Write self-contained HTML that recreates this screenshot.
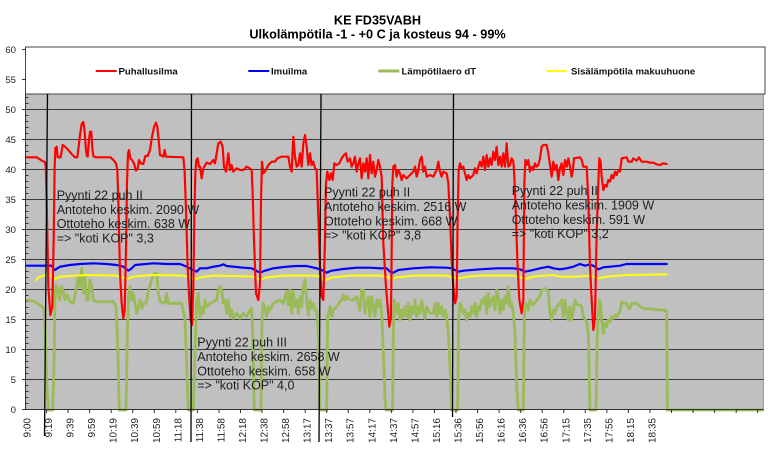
<!DOCTYPE html>
<html><head><meta charset="utf-8"><style>
html,body{margin:0;padding:0;background:#fff;}
svg{display:block;font-family:"Liberation Sans",Arial,sans-serif;}
</style></head><body>
<svg width="772" height="472" viewBox="0 0 772 472" xmlns="http://www.w3.org/2000/svg">
<rect width="772" height="472" fill="#fff"/>
<!-- title -->
<text x="377.5" y="24.3" font-size="12.7" font-weight="bold" text-anchor="middle" fill="#000">KE FD35VABH</text>
<text x="377.5" y="38.3" font-size="12.7" font-weight="bold" text-anchor="middle" fill="#000">Ulkolämpötila -1 - +0 C ja kosteus 94 - 99%</text>
<!-- plot area -->
<rect x="25.5" y="49.5" width="738" height="360" fill="#c0c0c0"/>
<line x1="763.5" y1="49.5" x2="763.5" y2="409.5" stroke="#9a9a9a" stroke-width="1"/>
<g stroke="#3a3a3a" stroke-width="1">
<line x1="25.5" y1="379.5" x2="763.5" y2="379.5"/>
<line x1="25.5" y1="349.5" x2="763.5" y2="349.5"/>
<line x1="25.5" y1="319.5" x2="763.5" y2="319.5"/>
<line x1="25.5" y1="289.5" x2="763.5" y2="289.5"/>
<line x1="25.5" y1="259.5" x2="763.5" y2="259.5"/>
<line x1="25.5" y1="229.5" x2="763.5" y2="229.5"/>
<line x1="25.5" y1="199.5" x2="763.5" y2="199.5"/>
<line x1="25.5" y1="169.5" x2="763.5" y2="169.5"/>
<line x1="25.5" y1="139.5" x2="763.5" y2="139.5"/>
<line x1="25.5" y1="109.5" x2="763.5" y2="109.5"/>
</g>
<!-- minor ticks -->
<g stroke="#333" stroke-width="1">
<line x1="25" y1="97.5" x2="28.5" y2="97.5"/><line x1="25" y1="103.5" x2="28.5" y2="103.5"/>
<line x1="25" y1="115.5" x2="28.5" y2="115.5"/><line x1="25" y1="121.5" x2="28.5" y2="121.5"/><line x1="25" y1="127.5" x2="28.5" y2="127.5"/><line x1="25" y1="133.5" x2="28.5" y2="133.5"/>
<line x1="25" y1="145.5" x2="28.5" y2="145.5"/><line x1="25" y1="151.5" x2="28.5" y2="151.5"/><line x1="25" y1="157.5" x2="28.5" y2="157.5"/><line x1="25" y1="163.5" x2="28.5" y2="163.5"/>
<line x1="25" y1="175.5" x2="28.5" y2="175.5"/><line x1="25" y1="181.5" x2="28.5" y2="181.5"/><line x1="25" y1="187.5" x2="28.5" y2="187.5"/><line x1="25" y1="193.5" x2="28.5" y2="193.5"/>
<line x1="25" y1="205.5" x2="28.5" y2="205.5"/><line x1="25" y1="211.5" x2="28.5" y2="211.5"/><line x1="25" y1="217.5" x2="28.5" y2="217.5"/><line x1="25" y1="223.5" x2="28.5" y2="223.5"/>
<line x1="25" y1="235.5" x2="28.5" y2="235.5"/><line x1="25" y1="241.5" x2="28.5" y2="241.5"/><line x1="25" y1="247.5" x2="28.5" y2="247.5"/><line x1="25" y1="253.5" x2="28.5" y2="253.5"/>
<line x1="25" y1="265.5" x2="28.5" y2="265.5"/><line x1="25" y1="271.5" x2="28.5" y2="271.5"/><line x1="25" y1="277.5" x2="28.5" y2="277.5"/><line x1="25" y1="283.5" x2="28.5" y2="283.5"/>
<line x1="25" y1="295.5" x2="28.5" y2="295.5"/><line x1="25" y1="301.5" x2="28.5" y2="301.5"/><line x1="25" y1="307.5" x2="28.5" y2="307.5"/><line x1="25" y1="313.5" x2="28.5" y2="313.5"/>
<line x1="25" y1="325.5" x2="28.5" y2="325.5"/><line x1="25" y1="331.5" x2="28.5" y2="331.5"/><line x1="25" y1="337.5" x2="28.5" y2="337.5"/><line x1="25" y1="343.5" x2="28.5" y2="343.5"/>
<line x1="25" y1="355.5" x2="28.5" y2="355.5"/><line x1="25" y1="361.5" x2="28.5" y2="361.5"/><line x1="25" y1="367.5" x2="28.5" y2="367.5"/><line x1="25" y1="373.5" x2="28.5" y2="373.5"/>
<line x1="25" y1="385.5" x2="28.5" y2="385.5"/><line x1="25" y1="391.5" x2="28.5" y2="391.5"/><line x1="25" y1="397.5" x2="28.5" y2="397.5"/><line x1="25" y1="403.5" x2="28.5" y2="403.5"/>
</g>
<!-- major y ticks -->
<g stroke="#333" stroke-width="1">
<line x1="22" y1="49.5" x2="25.5" y2="49.5"/><line x1="22" y1="79.5" x2="25.5" y2="79.5"/><line x1="22" y1="109.5" x2="25.5" y2="109.5"/><line x1="22" y1="139.5" x2="25.5" y2="139.5"/><line x1="22" y1="169.5" x2="25.5" y2="169.5"/><line x1="22" y1="199.5" x2="25.5" y2="199.5"/><line x1="22" y1="229.5" x2="25.5" y2="229.5"/><line x1="22" y1="259.5" x2="25.5" y2="259.5"/><line x1="22" y1="289.5" x2="25.5" y2="289.5"/><line x1="22" y1="319.5" x2="25.5" y2="319.5"/><line x1="22" y1="349.5" x2="25.5" y2="349.5"/><line x1="22" y1="379.5" x2="25.5" y2="379.5"/><line x1="22" y1="409.5" x2="25.5" y2="409.5"/>
</g>
<g font-size="9.6" fill="#222" text-anchor="end">
<text x="16" y="53">60</text><text x="16" y="83">55</text><text x="16" y="113">50</text><text x="16" y="143">45</text><text x="16" y="173">40</text><text x="16" y="203">35</text><text x="16" y="233">30</text><text x="16" y="263">25</text><text x="16" y="293">20</text><text x="16" y="323">15</text><text x="16" y="353">10</text><text x="16" y="383">5</text><text x="16" y="413">0</text>
</g>

<!-- series -->
<g fill="none" stroke-linejoin="round" stroke-linecap="round">
<!-- green -->
<g stroke="#9bbb59" stroke-width="8.5">
<path transform="translate(20,100) scale(0.333333)" d="M20,600 L45,605 L60,615 L72,625 L76,700 L80,850 L85,930 L98,930 L102,800 L105,600 L108,555 L112,580 L115,565 L118,600 L125,560 L130,575 L135,600 L142,585 L150,605 L160,610 L170,560 L175,530 L180,560 L185,505 L190,580 L195,530 L200,600 L205,600 L210,540 L215,560 L220,600 L230,605 L280,605 L288,620 L292,700 L298,930 L318,930 L322,700 L326,580 L330,560 L335,600 L340,580 L345,610 L350,640 L355,620 L360,600 L365,625 L370,610 L378,610 L385,575 L392,550 L400,525 L405,520 L410,520 L415,580 L420,605 L435,610 L440,580 L445,610 L485,610 L495,660 L500,800 L505,930 L520,930 L525,750 L530,600 L535,580 L540,650"/>
<path transform="translate(200,100) scale(0.333333)" d="M0,650 L5,620 L10,640 L15,600 L20,620 L30,610 L40,605 L50,600 L55,565 L60,560 L65,570 L70,610 L75,600 L80,640 L85,600 L90,650 L95,630 L100,655 L110,640 L120,655 L130,640 L140,650 L150,630 L155,625 L158,700 L163,930 L183,930 L186,650 L190,610 L195,625 L200,650 L205,620 L210,630 L220,610 L230,605 L240,600 L250,610 L260,575 L265,615 L270,570 L275,640 L280,575 L285,620 L290,600 L295,640 L300,590 L305,620 L310,560 L315,540 L320,600 L325,645 L330,600 L335,625 L340,610 L345,630 L350,630 L355,700 L360,930 L380,930 L383,650 L390,620 L395,650 L400,630 L410,620 L420,605 L425,600 L430,585 L435,600 L440,590 L450,600 L460,600 L470,590 L480,630 L485,570 L490,570 L495,640 L500,610 L505,590 L510,650 L515,590 L520,620 L525,650 L530,600 L535,620 L540,600"/>
<path transform="translate(380,100) scale(0.333333)" d="M0,600 L5,640 L10,750 L15,900 L18,930 L38,930 L40,700 L43,600 L48,620 L52,640 L55,610 L60,660 L65,630 L70,650 L75,620 L80,650 L85,610 L90,660 L95,620 L100,640 L105,600 L110,650 L115,620 L120,640 L125,600 L130,630 L135,655 L140,620 L150,640 L160,640 L165,610 L170,650 L175,610 L180,640 L185,620 L190,650 L195,630 L200,650 L205,700 L210,800 L215,930 L233,930 L236,650 L240,610 L245,620 L250,640 L255,630 L260,660 L265,640 L270,650 L275,620 L280,640 L285,610 L290,650 L295,620 L300,630 L305,600 L310,610 L315,590 L320,640 L325,580 L330,620 L335,600 L340,590 L345,630 L350,570 L355,590 L360,640 L365,600 L370,630 L375,590 L380,610 L385,560 L390,620 L395,610 L400,640 L405,700 L410,860 L415,930 L430,930 L433,650 L438,610 L445,630 L450,600 L460,615 L470,600 L480,590 L485,570 L495,565 L505,575 L510,640 L515,660 L520,630 L525,640 L530,620 L540,610"/>
<path transform="translate(560,100) scale(0.333333)" d="M0,610 L5,600 L10,650 L15,600 L20,640 L25,660 L30,620 L35,660 L40,630 L45,600 L50,615 L60,615 L65,620 L70,650 L80,665 L85,700 L90,930 L108,930 L112,700 L118,600 L122,610 L125,660 L130,700 L135,670 L140,680 L145,660 L150,665 L155,650 L160,655 L165,645 L170,650 L175,640 L180,635 L185,605 L190,610 L200,610 L205,625 L210,625 L215,610 L230,610 L240,620 L250,625 L270,627 L300,630 L315,630 L320,635 L322,930 L608,930"/>
</g>
<!-- yellow -->
<g stroke="#ffff00" stroke-width="6">
<path transform="translate(20,100) scale(0.333333)" d="M50,540 L55,532 L70,527 L95,527 L105,537 L120,530 L200,525 L290,527 L320,537 L340,530 L400,525 L490,527 L515,533 L530,537 L540,532"/>
<path transform="translate(200,100) scale(0.333333)" d="M0,532 L40,527 L100,528 L160,530 L180,540 L200,532 L250,527 L350,527 L375,540 L400,532 L450,527 L540,527"/>
<path transform="translate(380,100) scale(0.333333)" d="M0,527 L20,530 L35,537 L50,532 L100,527 L200,527 L225,533 L240,535 L260,530 L300,527 L400,527 L420,532 L435,537 L460,530 L520,525 L540,530"/>
<path transform="translate(560,100) scale(0.333333)" d="M0,530 L50,530 L90,527 L115,535 L140,530 L200,525 L320,523"/>
</g>
<!-- blue -->
<g stroke="#0000ff" stroke-width="6.5">
<path transform="translate(20,100) scale(0.333333)" d="M20,497 L95,497 L100,505 L105,510 L112,505 L120,500 L150,495 L180,492 L220,490 L260,492 L290,495 L310,500 L325,512 L335,505 L345,495 L400,490 L440,492 L480,492 L500,500 L515,508 L530,515 L540,505"/>
<path transform="translate(200,100) scale(0.333333)" d="M0,505 L20,505 L40,500 L60,497 L70,493 L80,498 L100,500 L130,503 L155,505 L165,510 L180,518 L195,512 L220,505 L260,500 L290,498 L320,498 L350,505 L365,510 L380,518 L395,512 L430,507 L470,503 L510,503 L540,505"/>
<path transform="translate(380,100) scale(0.333333)" d="M0,505 L20,505 L30,515 L40,518 L55,510 L100,505 L150,502 L200,503 L215,505 L235,515 L250,512 L300,508 L350,505 L400,505 L420,508 L435,515 L450,512 L480,505 L505,500 L520,505 L540,508"/>
<path transform="translate(560,100) scale(0.333333)" d="M0,508 L20,505 L40,500 L60,492 L75,497 L90,493 L105,500 L115,508 L130,502 L150,500 L180,497 L200,492 L220,492 L320,492"/>
</g>
<!-- red -->
<g stroke="#ff0000" stroke-width="6.5">
<path transform="translate(20,100) scale(0.333333)" d="M20,172 L50,172 L58,177 L66,182 L74,186 L77,195 L80,300 L85,560 L91,645 L97,620 L101,420 L104,200 L106,145 L110,140 L113,172 L122,172 L128,135 L135,140 L145,150 L155,162 L165,172 L172,172 L176,140 L180,105 L185,72 L190,66 L194,95 L197,140 L200,165 L203,170 L207,120 L210,95 L214,95 L217,145 L220,168 L226,172 L272,172 L280,180 L288,190 L292,210 L295,300 L300,520 L305,610 L310,655 L314,630 L318,450 L321,250 L324,160 L327,150 L331,175 L336,180 L342,190 L348,212 L353,205 L357,180 L362,190 L370,192 L376,168 L383,168 L390,150 L396,110 L402,82 L408,68 L412,80 L416,120 L420,165 L430,170 L434,150 L438,170 L490,172 L494,215 L498,330 L503,500 L508,600 L512,660 L516,675 L520,560 L523,350 L526,220 L529,180 L533,175 L537,200 L540,200"/>
<path transform="translate(200,100) scale(0.333333)" d="M0,200 L5,235 L10,205 L20,188 L30,192 L40,180 L45,190 L50,160 L55,130 L62,125 L68,140 L72,200 L78,215 L85,160 L90,210 L95,195 L100,215 L110,205 L120,210 L130,210 L140,200 L150,205 L155,210 L158,280 L162,420 L168,580 L175,600 L180,550 L183,300 L186,185 L190,220 L195,215 L205,195 L215,185 L225,185 L232,175 L245,170 L265,170 L270,200 L275,215 L280,110 L285,170 L290,200 L295,195 L300,160 L305,200 L310,130 L315,105 L320,140 L325,195 L330,160 L335,195 L340,185 L345,205 L350,210 L355,350 L360,500 L365,590 L370,600 L375,420 L378,250 L382,215 L388,240 L393,220 L398,240 L403,190 L410,195 L418,190 L425,175 L432,165 L438,160 L443,185 L450,175 L455,200 L460,190 L465,170 L470,215 L475,190 L480,175 L485,235 L490,190 L495,215 L500,175 L505,235 L510,165 L515,220 L520,185 L525,230 L530,210 L535,180 L540,200"/>
<path transform="translate(380,100) scale(0.333333)" d="M0,200 L5,230 L10,430 L18,560 L28,680 L33,650 L37,250 L40,200 L45,195 L50,230 L55,210 L60,220 L65,240 L70,225 L80,235 L90,225 L100,215 L105,200 L110,230 L115,210 L120,180 L125,170 L130,215 L135,200 L140,230 L150,225 L160,230 L170,210 L175,185 L180,215 L185,230 L190,215 L200,220 L205,250 L210,350 L215,480 L220,560 L225,610 L230,590 L233,350 L236,210 L240,190 L245,205 L250,200 L255,220 L260,240 L265,225 L270,235 L280,225 L285,205 L290,220 L295,200 L300,185 L305,200 L310,170 L315,210 L320,165 L325,200 L330,175 L335,195 L340,155 L345,180 L350,140 L355,195 L360,170 L365,200 L370,160 L375,200 L380,130 L385,200 L390,195 L395,175 L400,185 L403,230 L408,350 L412,480 L418,600 L425,640 L430,600 L433,250 L436,180 L440,195 L445,180 L450,215 L455,200 L460,210 L465,190 L470,200 L475,195 L480,175 L485,140 L490,135 L500,135 L505,160 L510,195 L515,230 L520,185 L525,210 L530,195 L535,240 L540,205"/>
<path transform="translate(560,100) scale(0.333333)" d="M0,205 L5,190 L10,225 L15,180 L20,200 L25,175 L30,200 L35,230 L38,215 L42,175 L60,172 L65,180 L70,200 L80,200 L85,300 L90,500 L95,600 L100,690 L105,650 L110,400 L115,250 L118,175 L122,185 L125,230 L130,270 L135,255 L140,260 L145,240 L150,245 L155,225 L160,235 L165,215 L170,225 L175,210 L180,215 L185,175 L200,172 L205,185 L215,185 L220,175 L230,182 L237,172 L245,185 L260,185 L270,188 L280,188 L290,193 L300,195 L310,190 L320,192"/>
</g>
</g>

<!-- axes -->
<line x1="25.5" y1="49.5" x2="25.5" y2="410" stroke="#333" stroke-width="1"/>
<line x1="25.5" y1="409.5" x2="763.5" y2="409.5" stroke="#333" stroke-width="1"/>
<!-- x ticks -->
<g stroke="#333" stroke-width="1">
<line x1="46.5" y1="409.5" x2="46.5" y2="413"/><line x1="68.1" y1="409.5" x2="68.1" y2="413"/><line x1="89.6" y1="409.5" x2="89.6" y2="413"/><line x1="111.2" y1="409.5" x2="111.2" y2="413"/><line x1="132.7" y1="409.5" x2="132.7" y2="413"/><line x1="154.3" y1="409.5" x2="154.3" y2="413"/><line x1="175.8" y1="409.5" x2="175.8" y2="413"/><line x1="197.4" y1="409.5" x2="197.4" y2="413"/><line x1="219" y1="409.5" x2="219" y2="413"/><line x1="240.5" y1="409.5" x2="240.5" y2="413"/><line x1="262" y1="409.5" x2="262" y2="413"/><line x1="283.6" y1="409.5" x2="283.6" y2="413"/><line x1="305.2" y1="409.5" x2="305.2" y2="413"/><line x1="326.7" y1="409.5" x2="326.7" y2="413"/><line x1="348.2" y1="409.5" x2="348.2" y2="413"/><line x1="369.8" y1="409.5" x2="369.8" y2="413"/><line x1="391.4" y1="409.5" x2="391.4" y2="413"/><line x1="412.9" y1="409.5" x2="412.9" y2="413"/><line x1="434.5" y1="409.5" x2="434.5" y2="413"/><line x1="456" y1="409.5" x2="456" y2="413"/><line x1="477.5" y1="409.5" x2="477.5" y2="413"/><line x1="499.1" y1="409.5" x2="499.1" y2="413"/><line x1="520.7" y1="409.5" x2="520.7" y2="413"/><line x1="542.2" y1="409.5" x2="542.2" y2="413"/><line x1="563.8" y1="409.5" x2="563.8" y2="413"/><line x1="585.3" y1="409.5" x2="585.3" y2="413"/><line x1="606.9" y1="409.5" x2="606.9" y2="413"/><line x1="628.4" y1="409.5" x2="628.4" y2="413"/><line x1="650" y1="409.5" x2="650" y2="413"/><line x1="671.5" y1="409.5" x2="671.5" y2="413"/><line x1="693.1" y1="409.5" x2="693.1" y2="413"/><line x1="714.6" y1="409.5" x2="714.6" y2="413"/><line x1="736.2" y1="409.5" x2="736.2" y2="413"/><line x1="757.7" y1="409.5" x2="757.7" y2="413"/>
</g>
<g font-size="10" fill="#222" text-anchor="end">
<text transform="translate(30.5,418) rotate(-90)">9:00</text>
<text transform="translate(52,418) rotate(-90)">9:19</text>
<text transform="translate(73.6,418) rotate(-90)">9:39</text>
<text transform="translate(95.1,418) rotate(-90)">9:59</text>
<text transform="translate(116.7,418) rotate(-90)">10:19</text>
<text transform="translate(138.2,418) rotate(-90)">10:39</text>
<text transform="translate(159.8,418) rotate(-90)">10:59</text>
<text transform="translate(181.3,418) rotate(-90)">11:18</text>
<text transform="translate(202.9,418) rotate(-90)">11:38</text>
<text transform="translate(224.5,418) rotate(-90)">11:58</text>
<text transform="translate(246,418) rotate(-90)">12:18</text>
<text transform="translate(267.5,418) rotate(-90)">12:38</text>
<text transform="translate(289.1,418) rotate(-90)">12:58</text>
<text transform="translate(310.7,418) rotate(-90)">13:17</text>
<text transform="translate(332.2,418) rotate(-90)">13:37</text>
<text transform="translate(353.7,418) rotate(-90)">13:57</text>
<text transform="translate(375.3,418) rotate(-90)">14:17</text>
<text transform="translate(396.9,418) rotate(-90)">14:37</text>
<text transform="translate(418.4,418) rotate(-90)">14:57</text>
<text transform="translate(440,418) rotate(-90)">15:16</text>
<text transform="translate(461.5,418) rotate(-90)">15:36</text>
<text transform="translate(483,418) rotate(-90)">15:56</text>
<text transform="translate(504.6,418) rotate(-90)">16:16</text>
<text transform="translate(526.2,418) rotate(-90)">16:36</text>
<text transform="translate(547.7,418) rotate(-90)">16:56</text>
<text transform="translate(569.3,418) rotate(-90)">17:15</text>
<text transform="translate(590.8,418) rotate(-90)">17:35</text>
<text transform="translate(612.4,418) rotate(-90)">17:55</text>
<text transform="translate(633.9,418) rotate(-90)">18:15</text>
<text transform="translate(655.5,418) rotate(-90)">18:35</text>
</g>

<!-- legend -->
<rect x="25.5" y="47" width="739.5" height="47" fill="#fff" stroke="#444" stroke-width="1"/>
<g stroke-width="2">
<line x1="95.7" y1="71" x2="116.7" y2="71" stroke="#ff0000"/>
<line x1="248.3" y1="71" x2="269.3" y2="71" stroke="#0000ff"/>
<line x1="378.3" y1="71" x2="399.3" y2="71" stroke="#9bbb59" stroke-width="3"/>
<line x1="546.7" y1="71" x2="566.7" y2="71" stroke="#ffff00"/>
</g>
<g font-size="9.6" font-weight="bold" fill="#111">
<text x="118.5" y="74.5">Puhallusilma</text>
<text x="271" y="74.5">Imuilma</text>
<text x="401.5" y="74.5">Lämpötilaero dT</text>
<text x="571" y="74.5">Sisälämpötila makuuhuone</text>
</g>

<!-- annotations -->
<g font-size="12.5" fill="#1e1e1e">
<text x="56.7" y="199.5">Pyynti 22 puh II</text>
<text x="56.7" y="213.8">Antoteho keskim. 2090 W</text>
<text x="56.7" y="228.1">Ottoteho keskim. 638 W</text>
<text x="56.7" y="242.4">=&gt; "koti KOP" 3,3</text>
<text x="197.3" y="346.5">Pyynti 22 puh III</text>
<text x="197.3" y="360.9">Antoteho keskim. 2658 W</text>
<text x="197.3" y="375.3">Ottoteho keskim. 658 W</text>
<text x="197.3" y="389.7">=&gt; "koti KOP" 4,0</text>
<text x="324" y="196.5">Pyynti 22 puh II</text>
<text x="324" y="210.9">Antoteho keskim. 2516 W</text>
<text x="324" y="225.3">Ottoteho keskim. 668 W</text>
<text x="324" y="239.7">=&gt; "koti KOP" 3,8</text>
<text x="511.7" y="195">Pyynti 22 puh II</text>
<text x="511.7" y="209.4">Antoteho keskim. 1909 W</text>
<text x="511.7" y="223.8">Ottoteho keskim. 591 W</text>
<text x="511.7" y="238.2">=&gt; "koti KOP" 3,2</text>
</g>

<!-- vertical marker lines -->
<g stroke="#000" stroke-width="1.3">
<line x1="47.5" y1="94" x2="44.5" y2="436"/>
<line x1="191.5" y1="94" x2="191" y2="442"/>
<line x1="321" y1="94" x2="319" y2="442"/>
<line x1="453.5" y1="94" x2="452.5" y2="417"/>
</g>
</svg>
</body></html>
